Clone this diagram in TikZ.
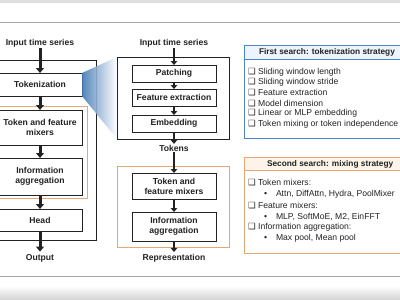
\documentclass[tikz,border=0pt]{standalone}
\usepackage{fontspec}
\setmainfont{Liberation Sans}
\newfontfamily\symfont{DejaVu Sans}
\usetikzlibrary{arrows.meta}
\definecolor{txt}{HTML}{222222}
\definecolor{bluebd}{HTML}{4A86C8}
\definecolor{bluehd}{HTML}{EEF4FB}
\definecolor{orgbd}{HTML}{E2A878}
\definecolor{orghd}{HTML}{FDF3E9}
\tikzset{
  every node/.style={text=txt, inner sep=0pt, outer sep=0pt},
  lbl/.style={font=\fontsize{8.6}{10}\selectfont\bfseries},
  blk/.style={draw=txt, line width=0.8pt, fill=white, align=center, font=\fontsize{8.6}{10}\selectfont\bfseries},
  frame/.style={draw=txt, line width=0.7pt},
  oframe/.style={draw=orgbd, line width=0.9pt},
  fat/.style={line width=3pt, txt, -{Triangle[width=8pt,length=5pt]}},
  slim/.style={line width=2.4pt, txt, -{Triangle[width=6.5pt,length=4pt]}},
  item/.style={anchor=west, font=\fontsize{8.6}{10}\selectfont},
  hdr/.style={anchor=west, font=\fontsize{8.3}{10}\selectfont\bfseries},
}
\newcommand{\chk}{{\symfont\fontsize{8.5}{9}\selectfont ❑}}
\begin{document}
\begin{tikzpicture}[x=1pt,y=-1pt]
\useasboundingbox (0,0) rectangle (400,300);
\clip (0,0) rectangle (400,300);
% page bands
\fill[gray!25] (0,0) rectangle (400,3);
\shade[top color=white, bottom color=gray!35] (0,286) rectangle (400,300);
\draw[gray!70, line width=0.6pt] (0,22) -- (400,22);
\draw[gray!70, line width=0.6pt] (0,276) -- (400,276);

% ---------- left column ----------
\node[lbl] (in1) at (40,43) {Input time series};
\node[frame, minimum width=112pt, minimum height=180pt] (outL) at (40,150) {};
\node[oframe, minimum width=94pt, minimum height=92pt] (orgL) at (40,152) {};
\node[blk, minimum width=84pt, minimum height=23pt] (tok) at (40,84.5) {Tokenization};
\node[blk, minimum width=84pt, minimum height=35pt] (mix) at (40,127.5) {Token and feature\\mixers};
\node[blk, minimum width=84pt, minimum height=37pt] (agg) at (40,176.5) {Information\\aggregation};
\node[blk, minimum width=84pt, minimum height=22pt] (head) at (40,220) {Head};
\node[lbl] (out) at (40,258) {Output};
\draw[fat] ([yshift=-1pt]in1.south) -- (tok.north);
\draw[fat] (tok.south) -- (mix.north);
\draw[fat] (mix.south) -- (agg.north);
\draw[fat] (agg.south) -- (head.north);
\draw[fat] (head.south) -- ([yshift=2.5pt]out.north);

% ---------- middle column ----------
\node[lbl] (in2) at (174,43) {Input time series};
\node[frame, minimum width=112pt, minimum height=82pt] (outM) at (173,98) {};
% zoom wedge
\shade[left color=bluebd!90!black, right color=white, opacity=0.9]
  (tok.north east) -- (outM.north west) -- (outM.south west) -- (tok.south east) -- cycle;
\node[frame, minimum width=112pt, minimum height=82pt] at (173,98) {};
\node[blk, minimum width=84pt, minimum height=17pt] (patch) at (174,73.5) {Patching};
\node[blk, minimum width=84pt, minimum height=17pt] (feat) at (174,97.5) {Feature extraction};
\node[blk, minimum width=84pt, minimum height=17pt] (emb) at (174,123.5) {Embedding};
\node[lbl] (tokens) at (174,148) {Tokens};
\node[oframe, minimum width=112pt, minimum height=81pt] (orgM) at (173,206.5) {};
\node[blk, minimum width=84pt, minimum height=26pt] (mix2) at (174,186) {Token and\\feature mixers};
\node[blk, minimum width=84pt, minimum height=29pt] (agg2) at (174,226.5) {Information\\aggregation};
\node[lbl] (rep) at (174,258) {Representation};
\draw[slim] ([yshift=-1pt]in2.south) -- (patch.north);
\draw[slim] (patch.south) -- (feat.north);
\draw[slim] (feat.south) -- (emb.north);
\draw[slim] (emb.south) -- ([yshift=1pt]tokens.north);
\draw[slim] ([yshift=-1pt]tokens.south) -- (mix2.north);
\draw[slim] (mix2.south) -- (agg2.north);
\draw[slim] (agg2.south) -- ([yshift=2pt]rep.north);

% ---------- right column: first search ----------
\fill[bluehd] (244,45) rectangle (410,59);
\draw[bluebd, line width=0.9pt] (244,45) rectangle (410,138);
\draw[bluebd, line width=0.9pt] (244,59) -- (410,59);
\node[hdr] (h1) at (259,52) {First search: tokenization strategy};
\foreach \t [count=\i] in {Sliding window length, Sliding window stride, Feature extraction, Model dimension, Linear or MLP embedding, Token mixing or token independence}{
  \node[item] (a\i) at (248,{61.5+\i*10.4}) {\chk\hspace{2.5pt}\t};
}

% ---------- right column: second search ----------
\fill[orghd] (244,157) rectangle (410,170);
\draw[orgbd, line width=0.9pt] (244,157) rectangle (410,253);
\draw[orgbd, line width=0.9pt] (244,170) -- (410,170);
\node[hdr] (h2) at (267,164) {Second search: mixing strategy};
\node[item] (b1) at (248,183) {\chk\hspace{2.5pt}Token mixers:};
\node[item] (b2) at (264,194.5) {•\hspace{9pt}Attn, DiffAttn, Hydra, PoolMixer};
\node[item] (b3) at (248,206) {\chk\hspace{2.5pt}Feature mixers:};
\node[item] (b4) at (264,217) {•\hspace{9pt}MLP, SoftMoE, M2, EinFFT};
\node[item] (b5) at (248,227.5) {\chk\hspace{2.5pt}Information aggregation:};
\node[item] (b6) at (264,238) {•\hspace{9pt}Max pool, Mean pool};
\end{tikzpicture}
\end{document}
